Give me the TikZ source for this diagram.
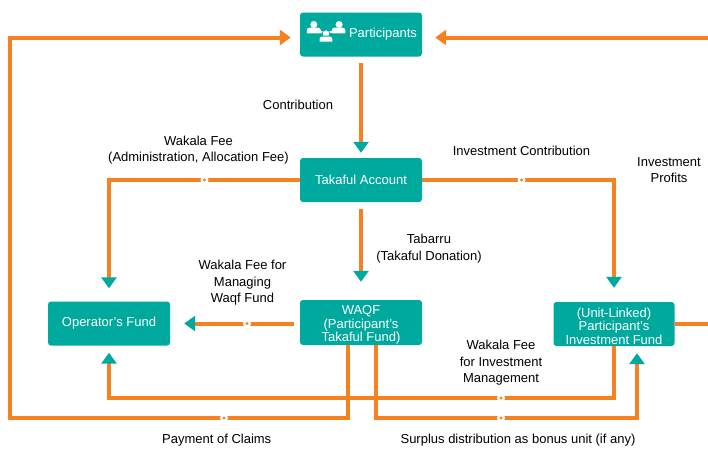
\documentclass[tikz,border=0pt]{standalone}
\usepackage{fontspec}
\setmainfont{Liberation Sans}
\usepackage{tikz}
\usetikzlibrary{arrows.meta,positioning,calc}
\definecolor{tealc}{HTML}{00A99D}
\definecolor{orangec}{HTML}{F58220}

\begin{document}
\begin{tikzpicture}[x=1pt,y=-1pt,
  fund/.style={rectangle,rounded corners=3pt,fill=tealc,text=white,align=center,
    minimum width=122pt,minimum height=44pt,inner sep=2pt,
    font=\fontsize{13}{13.3}\selectfont},
  lbl/.style={inner sep=0pt,align=center,font=\fontsize{13}{16.5}\selectfont},
  flow/.style={draw=orangec,line width=4pt},
  into/.style={-{Triangle[length=11pt,width=15pt,color=tealc]}},
  back/.style={-{Triangle[length=11pt,width=15pt]}},
  gapdot/.style={circle,fill=white,inner sep=0pt,minimum size=8pt,
    path picture={\fill[orangec] (path picture bounding box.center) circle (1.7pt);}}]
  \useasboundingbox (0,0) rectangle (708,448);
  \clip (0,0) rectangle (708,448);

  % boxes
  \node[fund] (part) at (361,34.5) {\hspace*{44pt}Participants};
  \node[fund] (tak) at (361,180) {Takaful Account};
  \node[fund,inner ysep=0pt,minimum height=45pt] (waqf) at (361,322.5) {\rule{0pt}{14pt}WAQF\\(Participant's\\Takaful Fund)};
  \node[fund] (op) at (109,323.5) {Operator's Fund};
  \node[fund,inner ysep=0pt,minimum width=121pt] (inv) at (614,324) {\rule{0pt}{14pt}(Unit-Linked)\\Participant's\\Investment Fund};

  % people icon
  \begin{scope}[shift={(part.west)}]
    \fill[white] (14,-10) circle (3.5) (39.3,-10) circle (3.5);
    \fill[white] (7,-1.2) [rounded corners=2.5pt] -- (7,-6.8) -- (21,-6.8) [sharp corners] -- (21,-1.2) -- cycle;
    \fill[white] (32,-1.2) [rounded corners=2.5pt] -- (32,-6.8) -- (45.5,-6.8) [sharp corners] -- (45.5,-1.2) -- cycle;
    \fill[white] (7,-3.6) rectangle (45.5,-1.2);
    \filldraw[white,draw=tealc,line width=0.8pt] (26.2,-0.8) circle (3.9);
    \filldraw[white,draw=tealc,line width=0.8pt] (19.4,7.6) [rounded corners=2.5pt] -- (19.4,1.6) -- (33,1.6) [sharp corners] -- (33,7.6) -- cycle;
  \end{scope}

  \coordinate (wcorner) at (10,37.5);
  \coordinate (ecorner) at (711,37.5);

  % flows
  \draw[flow,into,shorten <=6pt,shorten >=5pt] (part) -- (tak);
  \draw[flow,into,shorten >=13pt] (tak.west) -| (op.north);
  \draw[flow,into,shorten >=14pt] (tak.east) -| (inv.north);
  \draw[flow,into,shorten <=7pt,shorten >=18pt] (tak) -- (waqf);
  \draw[flow,into,shorten <=6pt,shorten >=14pt] (waqf.west |- op) -- (op.east);
  \draw[flow,into,shorten >=7pt] (inv.south) -- ++(0,52) -| (op.south);
  \draw[flow,into,shorten >=7pt] ([xshift=15pt]waqf.south) -- ++(0,73) -| ([xshift=23pt]inv.south);
  \draw[flow,back,shorten >=9pt] ([xshift=-13pt]waqf.south) -- ++(0,73) -| (wcorner) -- ([yshift=-3pt]part.west);
  \draw[flow,back,shorten >=13pt] (inv.east) -| (ecorner) -- ([yshift=-3pt]part.east);

  % gaps on the lines
  \foreach \p [count=\i] in {(204.5,180),(521.5,180),(247,323.5),(501,398),(501,418),(224,418)}
    \node[gapdot] (dot\i) at \p {};

  % labels
  \node[lbl] (lcontr) at (298,105) {Contribution};
  \node[lbl] (lwakala) at (198.5,150) {Wakala Fee\\(Administration, Allocation Fee)};
  \node[lbl] (linvest) at (521.5,151) {Investment Contribution};
  \node[lbl] (lprofit) at (669,170) {Investment\\Profits};
  \node[lbl] (ltabarru) at (429,248.5) {Tabarru\\(Takaful Donation)};
  \node[lbl] (lmanage) at (242.5,283) {Wakala Fee for\\Managing\\Waqf Fund};
  \node[lbl] (lmgmt) at (501,362.7) {Wakala Fee\\for Investment\\Management};
  \node[lbl] (lclaim) at (216.7,440.5) {Payment of Claims};
  \node[lbl] (lsurplus) at (518,440.5) {Surplus distribution as bonus unit (if any)};
\end{tikzpicture}
\end{document}
